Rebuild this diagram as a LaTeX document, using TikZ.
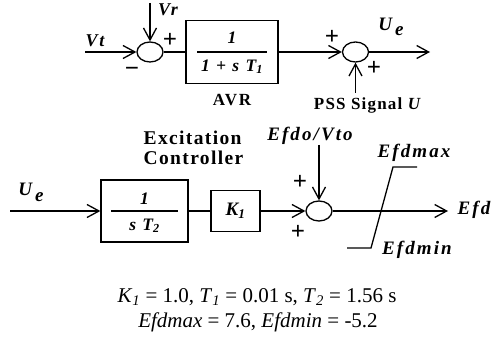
\documentclass[tikz,border=0pt]{standalone}
\usepackage{fontspec}
\setmainfont{Liberation Serif}
\newfontfamily\spaced[LetterSpace=11]{Liberation Serif}
\newfontfamily\tight[LetterSpace=7]{Liberation Serif}
\usetikzlibrary{shapes,arrows.meta,positioning}

\begin{document}
\begin{tikzpicture}[
    x=1pt, y=-1pt, line width=1.3pt,
    >={Straight Barb[length=12pt,width=13pt]},
    block/.style={rectangle, draw, inner sep=0pt},
    sum/.style={ellipse, draw, minimum width=26pt, minimum height=20pt, inner sep=0pt},
    arrow/.style={->},
    lbl/.style={font=\fontsize{19}{21}\spaced\bfseries\itshape, inner sep=0pt},
    tag/.style={font=\fontsize{17}{19}\tight\bfseries, inner sep=0pt},
    frac/.style={font=\fontsize{17.5}{19}\spaced\bfseries\itshape, inner sep=0pt},
    sign/.style={font=\fontsize{25}{25}\bfseries, inner sep=0pt},
    note/.style={font=\fontsize{21}{25}\selectfont, inner sep=0pt}
]
\useasboundingbox (0,0) rectangle (492,347);
% AVR loop
\node[sum] (sum1) at (150,52) {};
\node[block, minimum width=92pt, minimum height=63pt] (avr) at (232,52) {};
\node[sum] (sum2) at (355.5,52) {};
\coordinate (vtin) at (85,52);
\coordinate (vrin) at (150,3);
\coordinate (ueout) at (430,52);
\coordinate (pssin) at (355.5,93);
\draw ([xshift=12pt]avr.west) -- ([xshift=-12pt]avr.east);
\node[frac, above=8pt of avr.center] (avrnum) {1};
\node[frac, below=7pt of avr.center] (avrden) {1 + s T\textsubscript{1}};
\draw[arrow] (vtin) -- (sum1);
\draw[arrow] (vrin) -- (sum1);
\draw (sum1) -- (avr);
\draw[arrow] (avr) -- (sum2);
\draw[arrow] (sum2) -- (ueout);
\draw[arrow] (pssin) -- (sum2);
\node[lbl, font=\fontsize{18}{20}\spaced\bfseries\itshape] (vt) at (95,41) {Vt};
\node[lbl, font=\fontsize{18}{20}\spaced\bfseries\itshape] (vr) at (168,10) {Vr};
\node[sign] at (170,40) {+};
\node[sign] at (132,72) {−};
\node[sign] at (332,37) {+};
\node[sign] at (374,68) {+};
\node[lbl] (ue1) at (391,27) {U\,\raisebox{-5pt}{e}};
\node[tag, font=\fontsize{17}{19}\spaced\bfseries] (avrtag) at (232,100) {AVR};
\node[tag, anchor=base] (pss) at (368,110) {PSS Signal \textit{U}};
% excitation controller
\node[tag, font=\fontsize{19.5}{21}\tight\bfseries, anchor=base west] (exc) at (143,145) {Excitation};
\node[tag, font=\fontsize{19.5}{21}\tight\bfseries, anchor=base west] (ctl) at (143,165) {Controller};
\coordinate (uein) at (10,211);
\node[block, minimum width=87pt, minimum height=62pt] (intg) at (144.5,211) {};
\node[block, minimum width=49pt, minimum height=41pt] (gain) at (235.5,211) {};
\node[sum] (sum3) at (319,211) {};
\coordinate (efdoin) at (319,145);
\coordinate (efdout) at (448,211);
\draw ([xshift=11pt]intg.west) -- ([xshift=-11pt]intg.east);
\node[frac, above=6pt of intg.center] (intgnum) {1};
\node[frac, below=7pt of intg.center] (intgden) {s T\textsubscript{2}};
\node[frac, font=\fontsize{19}{21}\spaced\bfseries\itshape] (k1) at (gain.center) {K\textsubscript{1}};
\draw[arrow] (uein) -- (intg);
\draw (intg) -- (gain);
\draw[arrow] (gain) -- (sum3);
\draw[arrow] (efdoin) -- (sum3);
\draw[arrow] (sum3) -- (efdout);
\draw (347,248) -- (371,248) -- (393,167) -- (417,167);
\node[lbl] (ue2) at (31,192) {U\,\raisebox{-6pt}{e}};
\node[lbl] (efdo) at (310,136) {Efdo/Vto};
\node[lbl] (efdmax) at (414,153) {Efdmax};
\node[lbl] (efdmin) at (417,250) {Efdmin};
\node[lbl, anchor=west] (efd) at (457,210) {Efd};
\node[sign] at (300,182) {+};
\node[sign] at (298,232) {+};
% parameters
\node[note, anchor=base] (par1) at (257,302) {\textit{K}\textsubscript{\textit{1}} = 1.0, \textit{T}\textsubscript{\textit{1}} = 0.01 s, \textit{T}\textsubscript{\textit{2}} = 1.56 s};
\node[note, anchor=base] (par2) at (258,327) {\textit{Efdmax} = 7.6, \textit{Efdmin} = -5.2};
\end{tikzpicture}
\end{document}
